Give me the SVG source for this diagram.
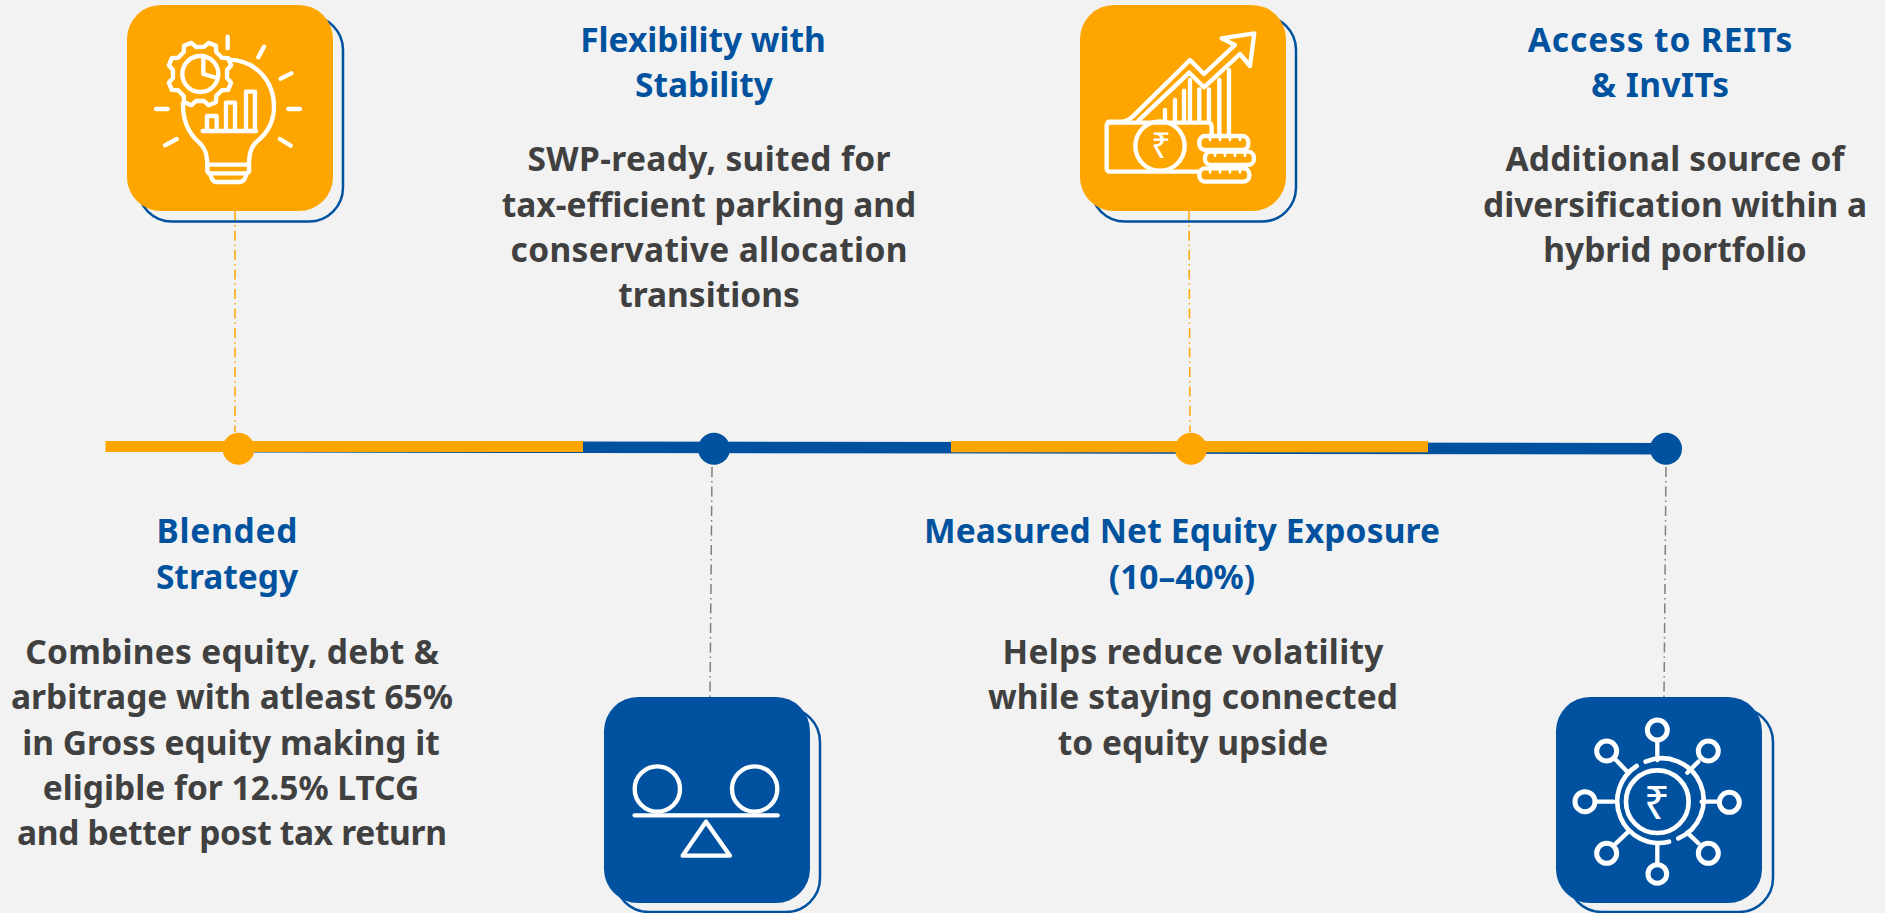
<svg xmlns="http://www.w3.org/2000/svg" width="1885" height="913" viewBox="0 0 1885 913">
<style>
.t{font-family:"Noto Sans","Open Sans","Liberation Sans",sans-serif;font-weight:700;text-anchor:middle}
.h{font-size:33.500px;fill:#00529F}
.b{font-size:33.500px;fill:#404040}
.box{stroke:none}
.o{fill:#FFA500}
.bl{fill:#0052A0}
.sh{fill:none;stroke:#0052A0;stroke-width:2.5}
.ic{fill:none;stroke:#fff;stroke-width:13;stroke-linecap:round;stroke-linejoin:round}
.dash{fill:none;stroke-width:1.5;stroke-dasharray:10 4 1.5 4}
.r{font-family:"Noto Sans","DejaVu Sans",sans-serif;fill:#fff;text-anchor:middle}
</style>
<rect width="1885" height="913" fill="#F2F2F2"/>
<g id="connectors">
<polygon class="bl" points="240,441 583,441.5 1666,443 1666,454.5 583,453 240,452.5"/>
<rect class="o" x="105.500" y="441" width="477.500" height="11"/>
<rect class="o" x="951" y="441" width="477" height="11.300"/>
<line class="dash" stroke="#FFA500" x1="235" y1="211" x2="235" y2="432"/>
<line class="dash" stroke="#7F7F7F" x1="712" y1="467" x2="710" y2="697"/>
<line class="dash" stroke="#FFA500" x1="1189" y1="211" x2="1190" y2="432"/>
<line class="dash" stroke="#7F7F7F" x1="1666" y1="467" x2="1664" y2="697"/>
</g>
<g id="node-blended">
<rect class="sh" x="138" y="16" width="205" height="205.500" rx="34"/>
<rect class="o box" x="127" y="5" width="206" height="206" rx="34"/>
<g transform="translate(100 0) scale(.3333)" class="ic">
<polygon transform="rotate(7.500 300 222)" points="301.400,140 313.500,126 336.300,132.100 339.800,150.300 359,165 377.500,163.600 389.300,184.100 378.800,199.400 382,223.400 396,235.500 389.900,258.400 371.700,261.800 357,281 358.400,299.500 337.900,311.300 322.600,300.800 298.600,304 286.500,318 263.700,311.900 260.200,293.700 241,279 222.500,280.400 210.700,259.900 221.200,244.600 218,220.600 204,208.500 210.100,185.600 228.300,182.200 243,163 241.600,144.500 262.100,132.700 277.400,143.200"/>
<circle cx="301" cy="222" r="54"/>
<path d="M310 175V222L352 234"/>
<path d="M388 179C470 182 522 245 522 320C522 370 495 405 470 425C450 445 448 465 447 490V515L440 520L435 535Q430 546 415 546H350Q340 546 335 535L330 520L322 515V490C320 470 320 450 300 430C270 405 248 370 249 310"/>
<path d="M322 494H447M326 520H440"/>
<path d="M321 387V348H350V387M378 387V308H405V387M438 387V275H465V387M308 393H468"/>
<path d="M383 110V145M492 140L475 172M574 220L542 236M600 327H565M572 437L540 417M230 417L195 436M203 327H168"/>
</g>
<text class="t h" x="227" y="543" textLength="141">Blended</text>
<text class="t h" x="227" y="589">Strategy</text>
<text class="t b" x="232" y="664" textLength="413.500">Combines equity, debt &amp;</text>
<text class="t b" x="232" y="709">arbitrage with atleast 65%</text>
<text class="t b" x="231" y="755">in Gross equity making it</text>
<text class="t b" x="231" y="800">eligible for 12.5% LTCG</text>
<text class="t b" x="232" y="845" textLength="430">and better post tax return</text>
<circle class="o" cx="238.500" cy="448.700" r="16"/>
</g>
<g id="node-flexibility">
<rect class="sh" x="615" y="708" width="205" height="204" rx="34"/>
<rect class="bl box" x="604" y="697" width="206" height="206" rx="34"/>
<g transform="translate(580 680) scale(.3333)" class="ic">
<circle cx="232" cy="327" r="68"/>
<circle cx="524" cy="327" r="68"/>
<path d="M164 406H593"/>
<path d="M378 425L308 527H450Z"/>
</g>
<text class="t h" x="703" y="52">Flexibility with</text>
<text class="t h" x="704" y="97">Stability</text>
<text class="t b" x="709" y="171" textLength="363">SWP-ready, suited for</text>
<text class="t b" x="709" y="217">tax-efficient parking and</text>
<text class="t b" x="709" y="262" textLength="397">conservative allocation</text>
<text class="t b" x="709" y="307">transitions</text>
<circle class="bl" cx="714" cy="448.700" r="16"/>
</g>
<g id="node-equity">
<rect class="sh" x="1091" y="16" width="205" height="205.500" rx="34"/>
<rect class="o box" x="1080" y="5" width="206" height="206" rx="34"/>
<g transform="translate(1060 0) scale(.3333)" class="ic">
<path d="M415 515H150Q140 515 140 505V378Q140 368 150 368H445Q455 368 455 380V405"/>
<path d="M145 365H190Q205 362 218 350L390 180L432 222L525 135L485 115L583 100L570 198L540 162L432 262L388 218L235 362"/>
<path d="M315 330V360M345 300V360M372 272V360M390 240V360M418 268V360M447 268V360M478 240V405M507 210V405"/>
<circle cx="300" cy="438" r="74"/>
<rect x="418" y="408" width="147" height="42" rx="18" fill="#FFA500"/>
<rect x="435" y="455" width="147" height="40" rx="18" fill="#FFA500"/>
<rect x="418" y="505" width="150" height="40" rx="18" fill="#FFA500"/>
<path d="M450 420V410M480 420V410M510 420V410M540 420V410M465 467V457M495 467V457M525 467V457M555 467V457M450 517V507M480 517V507M510 517V507M540 517V507" stroke-width="8"/>
</g>
<text class="r" x="1161" y="158" font-size="35">₹</text>
<text class="t h" x="1182" y="543" textLength="516">Measured Net Equity Exposure</text>
<text class="t h" x="1182" y="589">(10–40%)</text>
<text class="t b" x="1193" y="664" textLength="381">Helps reduce volatility</text>
<text class="t b" x="1193" y="709" textLength="410">while staying connected</text>
<text class="t b" x="1193" y="755">to equity upside</text>
<circle class="o" cx="1191" cy="448.700" r="16"/>
</g>
<g id="node-reits">
<rect class="sh" x="1568" y="708" width="205" height="204" rx="34"/>
<rect class="bl box" x="1556" y="697" width="206" height="206" rx="34"/>
<g transform="translate(1530 680) scale(.3333)" class="ic">
<circle cx="382" cy="365" r="94" stroke-width="14"/>
<path d="M347 245A125 125 0 0 1 445 475M417 485A125 125 0 0 1 320 258" stroke-width="14"/>
<g stroke-width="15">
<circle cx="382" cy="150" r="30"/><circle cx="598" cy="367" r="30"/><circle cx="165" cy="365" r="30"/><circle cx="382" cy="582" r="28"/>
<circle cx="230" cy="213" r="30"/><circle cx="535" cy="213" r="30"/><circle cx="230" cy="520" r="30"/><circle cx="535" cy="520" r="30"/>
</g>
<path d="M382 182V240M515 365H565M200 365H250M382 495V550M258 240L292 275M505 245L472 278M258 490L292 458M505 490L472 458"/>
</g>
<text class="r" x="1657" y="819" font-size="46">₹</text>
<text class="t h" x="1660" y="52" textLength="264.500">Access to REITs</text>
<text class="t h" x="1660" y="97" textLength="138">&amp; InvITs</text>
<text class="t b" x="1675" y="171" textLength="339">Additional source of</text>
<text class="t b" x="1675" y="217">diversification within a</text>
<text class="t b" x="1675" y="262">hybrid portfolio</text>
<circle class="bl" cx="1666" cy="448.700" r="16"/>
</g>
</svg>
